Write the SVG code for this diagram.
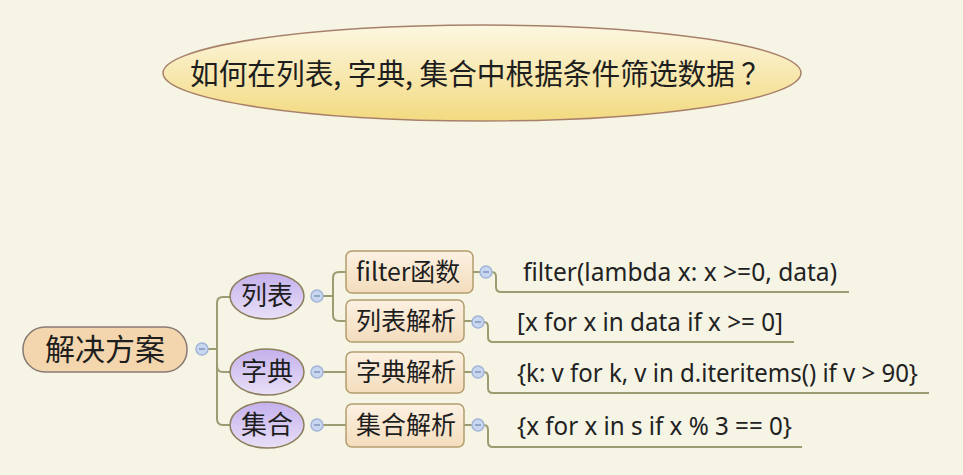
<svg xmlns="http://www.w3.org/2000/svg" width="963" height="475" viewBox="0 0 963 475">
<defs>
<linearGradient id="gTitle" x1="0" y1="0" x2="0" y2="1">
<stop offset="0" stop-color="#fcf7e2"/>
<stop offset="1" stop-color="#f3da80"/>
</linearGradient>
<linearGradient id="gOval" x1="0" y1="0" x2="0" y2="1">
<stop offset="0" stop-color="#c4b0ec"/>
<stop offset="1" stop-color="#e9e0f7"/>
</linearGradient>
<linearGradient id="gBox" x1="0" y1="0" x2="0" y2="1">
<stop offset="0" stop-color="#fcf1e2"/>
<stop offset="1" stop-color="#f3dcbc"/>
</linearGradient>
</defs>
<style>
.cjk{font-family:"Noto Sans CJK SC","Noto Sans",sans-serif;fill:#1e1e1e}
.code{font-family:"Noto Sans","Open Sans",sans-serif;fill:#222222;font-size:25px}
.conn{fill:none;stroke:#9c9c72;stroke-width:2}
.tog circle{fill:#c9d6ef;stroke:#a2b4d8;stroke-width:1.5}
.tog line{stroke:#8195bd;stroke-width:1.5}
.oval{fill:url(#gOval);stroke:#8c7e5c;stroke-width:1.5}
.box{fill:url(#gBox);stroke:#b39d6e;stroke-width:1.5}
</style>
<rect width="963" height="475" fill="#f5f4e5"/>

<g id="title">
<ellipse cx="482" cy="73" rx="319" ry="48" fill="url(#gTitle)" stroke="#a8806a" stroke-width="1.5"/>
<text class="cjk" x="190" y="85" font-size="29" textLength="580" lengthAdjust="spacingAndGlyphs">如何在列表, 字典, 集合中根据条件筛选数据 ？</text>
</g>

<g id="connectors">
<path class="conn" d="M208,349 H217"/>
<path class="conn" d="M217,349 V303 Q217,297 223,297 H230"/>
<path class="conn" d="M217,349 V366 Q217,372 223,372 H230"/>
<path class="conn" d="M217,366 V419 Q217,425 223,425 H230"/>
<path class="conn" d="M323,296 H333"/>
<path class="conn" d="M333,296 V278 Q333,272 339,272 H346"/>
<path class="conn" d="M333,296 V315 Q333,321 339,321 H346"/>
<path class="conn" d="M323,372 H346"/>
<path class="conn" d="M323,425 H346"/>
<path class="conn" d="M473,272 H480"/>
<path class="conn" d="M464,321 H472"/>
<path class="conn" d="M464,372 H472"/>
<path class="conn" d="M464,425 H472"/>
<path class="conn" d="M492,272 Q496,272 496,277 V287 Q496,292 501,292 H849"/>
<path class="conn" d="M484,322 Q488,322 488,327 V337 Q488,342 493,342 H794"/>
<path class="conn" d="M484,372 Q488,372 488,377 V388 Q488,393 493,393 H929"/>
<path class="conn" d="M484,425 Q488,425 488,430 V442 Q488,447 493,447 H802"/>
</g>

<g id="root">
<rect x="23" y="327" width="164" height="45" rx="22" fill="#f3d6ad" stroke="#8a7a76" stroke-width="1.5"/>
<text class="cjk" x="105" y="360" font-size="30" text-anchor="middle">解决方案</text>
</g>
<g id="tog-root" class="tog"><circle cx="202" cy="349" r="6"/><line x1="199" y1="349" x2="205" y2="349"/></g>

<g id="list">
<ellipse class="oval" cx="267" cy="296" rx="37" ry="23"/>
<text class="cjk" x="267" y="305" font-size="26" text-anchor="middle">列表</text>
</g>
<g id="tog-list" class="tog"><circle cx="317" cy="296" r="6"/><line x1="314" y1="296" x2="320" y2="296"/></g>

<g id="dict">
<ellipse class="oval" cx="267" cy="372" rx="37" ry="23"/>
<text class="cjk" x="267" y="381" font-size="26" text-anchor="middle">字典</text>
</g>
<g id="tog-dict" class="tog"><circle cx="317" cy="372" r="6"/><line x1="314" y1="372" x2="320" y2="372"/></g>

<g id="set">
<ellipse class="oval" cx="267" cy="425" rx="37" ry="23"/>
<text class="cjk" x="267" y="434" font-size="26" text-anchor="middle">集合</text>
</g>
<g id="tog-set" class="tog"><circle cx="317" cy="425" r="6"/><line x1="314" y1="425" x2="320" y2="425"/></g>

<g id="filter-func">
<rect class="box" x="346" y="251" width="127" height="42" rx="6"/>
<text class="cjk" x="356" y="281" font-size="25" textLength="104" lengthAdjust="spacingAndGlyphs">filter函数</text>
</g>
<g id="tog-filter" class="tog"><circle cx="486" cy="272" r="6"/><line x1="483" y1="272" x2="489" y2="272"/></g>

<g id="list-comp">
<rect class="box" x="346" y="300" width="118" height="42" rx="6"/>
<text class="cjk" x="356" y="330" font-size="25">列表解析</text>
</g>
<g id="tog-listcomp" class="tog"><circle cx="478" cy="322" r="6"/><line x1="475" y1="322" x2="481" y2="322"/></g>

<g id="dict-comp">
<rect class="box" x="346" y="352" width="118" height="41" rx="6"/>
<text class="cjk" x="356" y="381" font-size="25">字典解析</text>
</g>
<g id="tog-dictcomp" class="tog"><circle cx="478" cy="372" r="6"/><line x1="475" y1="372" x2="481" y2="372"/></g>

<g id="set-comp">
<rect class="box" x="346" y="404" width="118" height="43" rx="6"/>
<text class="cjk" x="356" y="434" font-size="25">集合解析</text>
</g>
<g id="tog-setcomp" class="tog"><circle cx="478" cy="425" r="6"/><line x1="475" y1="425" x2="481" y2="425"/></g>

<g id="code-filter">
<text class="code" x="523" y="281" textLength="314" lengthAdjust="spacingAndGlyphs">filter(lambda x: x &gt;=0, data)</text>
</g>
<g id="code-list">
<text class="code" x="517" y="331" textLength="266" lengthAdjust="spacingAndGlyphs">[x for x in data if x &gt;= 0]</text>
</g>
<g id="code-dict">
<text class="code" x="517" y="382" textLength="401" lengthAdjust="spacingAndGlyphs">{k: v for k, v in d.iteritems() if v &gt; 90}</text>
</g>
<g id="code-set">
<text class="code" x="517" y="435" textLength="275" lengthAdjust="spacingAndGlyphs">{x for x in s if x % 3 == 0}</text>
</g>
</svg>
